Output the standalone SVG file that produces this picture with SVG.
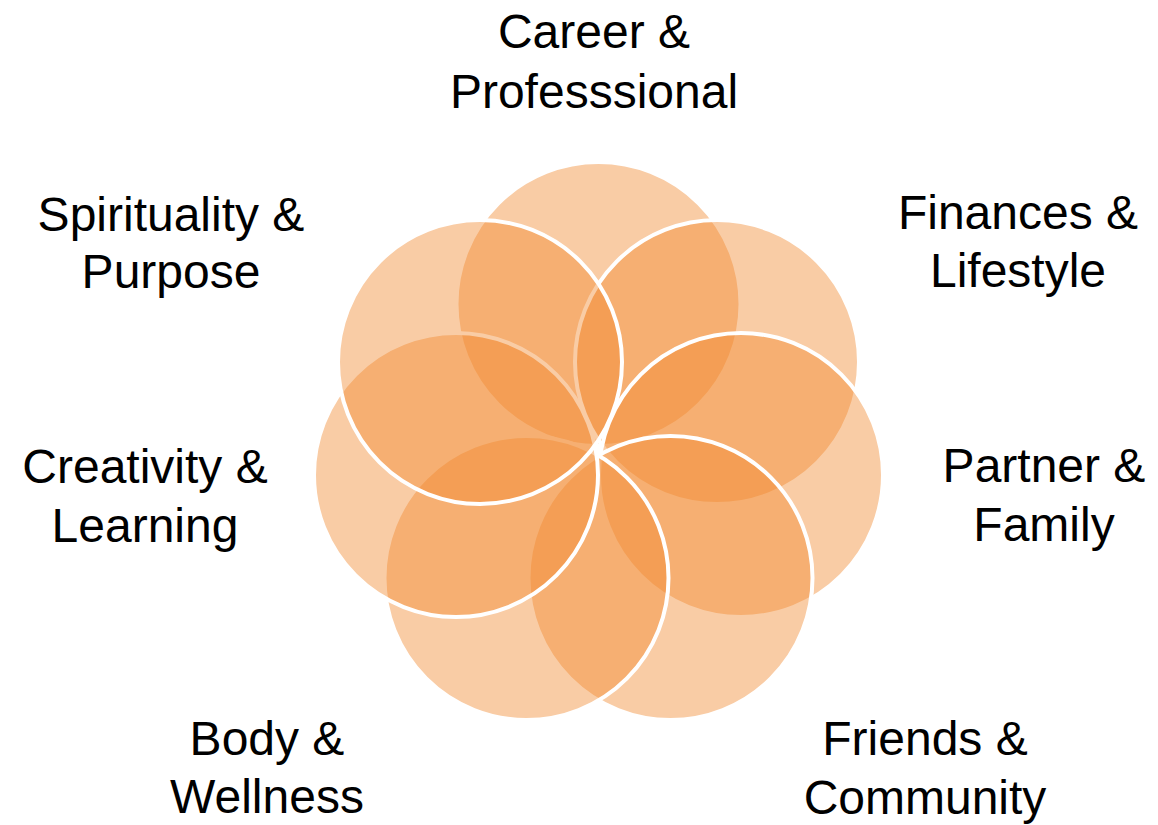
<svg xmlns="http://www.w3.org/2000/svg" width="1158" height="825" viewBox="0 0 1158 825">
  <style>
    .c { fill: #F2892F; fill-opacity: 0.43; stroke: #FFFFFF; stroke-width: 4; }
    .t { font-family: "Liberation Sans", "Open Sans", sans-serif; font-size: 48px; fill: #000000; text-anchor: middle; }
  </style>
  <rect x="0" y="0" width="1158" height="825" fill="#FFFFFF"/>
  <g id="circles">
    <g id="career"><circle class="c" cx="598.5" cy="304" r="142"/></g>
    <g id="finances"><circle class="c" cx="717" cy="362" r="142"/></g>
    <g id="partner"><circle class="c" cx="741" cy="475" r="142"/></g>
    <g id="friends"><circle class="c" cx="670.5" cy="578" r="142"/></g>
    <g id="body"><circle class="c" cx="526.5" cy="578" r="142"/></g>
    <g id="creativity"><circle class="c" cx="456" cy="475" r="142"/></g>
    <g id="spirituality"><circle class="c" cx="480" cy="362" r="142"/></g>
  </g>
  <g id="connectors"></g>
  <g id="labels">
    <g id="label-career"><text class="t" x="594" y="48">Career &amp;</text><text class="t" x="594" y="108">Professsional</text></g>
    <g id="label-finances"><text class="t" x="1018" y="229">Finances &amp;</text><text class="t" x="1018" y="287">Lifestyle</text></g>
    <g id="label-partner"><text class="t" x="1044" y="482">Partner &amp;</text><text class="t" x="1044" y="541">Family</text></g>
    <g id="label-friends"><text class="t" x="925" y="755">Friends &amp;</text><text class="t" x="925" y="814">Community</text></g>
    <g id="label-body"><text class="t" x="267" y="755">Body &amp;</text><text class="t" x="267" y="813">Wellness</text></g>
    <g id="label-creativity"><text class="t" x="145" y="483">Creativity &amp;</text><text class="t" x="145" y="542">Learning</text></g>
    <g id="label-spirituality"><text class="t" x="171" y="231">Spirituality &amp;</text><text class="t" x="171" y="288">Purpose</text></g>
  </g>
</svg>
